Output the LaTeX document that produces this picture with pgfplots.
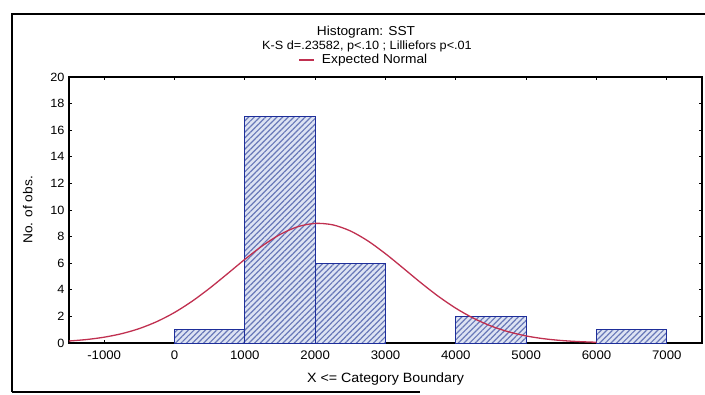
\documentclass[border=0pt]{standalone}
\usepackage{fontspec}
\setmainfont[FakeStretch=1.06]{Liberation Sans}
\usepackage{pgfplots}
\pgfplotsset{compat=1.18}
\usetikzlibrary{patterns.meta}
\definecolor{barbg}{HTML}{DDE3F3}
\definecolor{hatch}{HTML}{6878B8}
\definecolor{baredge}{HTML}{1E2E9A}
\definecolor{curve}{HTML}{C03050}
\begin{document}
\begin{tikzpicture}[x=1bp,y=1bp]
\useasboundingbox (0,0) rectangle (705,394);
\draw[line width=1.8bp] (12,2) -- (12,380) -- (705,380);
\draw[line width=1.8bp] (12,2) -- (420,2);
\node[font=\fontsize{13}{15}\selectfont] at (366,362) {Histogram: SST};
\node[font=\fontsize{12}{14}\selectfont] at (367,348) {K-S d=.23582, p<.10 ; Lilliefors p<.01};
\begin{axis}[
  at={(69bp,51bp)}, anchor=south west,
  scale only axis, width=633bp, height=266bp,
  xmin=-1500, xmax=7500, ymin=0, ymax=20,
  xtick={-1000,0,1000,2000,3000,4000,5000,6000,7000},
  ytick={0,2,4,6,8,10,12,14,16,18,20},
  tick align=inside, tick pos=both,
  major tick length=3bp,
  axis line style={line width=1.5bp},
  every tick/.style={black, line width=1bp},
  /pgf/number format/assume math mode=true,
  /pgf/number format/set thousands separator={},
  xticklabel style={font=\fontsize{12.5}{14}\selectfont, yshift=-4bp},
  yticklabel style={font=\fontsize{12}{14}\selectfont, xshift=-1bp},
  xlabel={X <= Category Boundary},
  ylabel={No. of obs.},
  xlabel style={font=\fontsize{13.5}{15}\selectfont, at={(axis description cs:0.5,-0.135)}, anchor=center},
  ylabel style={font=\fontsize{13}{15}\selectfont, at={(axis description cs:-0.065,0.5)}, anchor=center},
  legend style={at={(0.466,1.064)}, anchor=center, draw=none, fill=none,
    font=\fontsize{13}{15}\selectfont, inner sep=0pt,
    /tikz/every odd column/.append style={column sep=5bp}},
  legend image code/.code={\draw[#1, line width=1.3bp] (0bp,0bp) -- (15bp,0bp);},
  legend cell align=left,
  clip=false,
]
\addplot[ybar interval, draw=baredge, line width=1bp,
  preaction={fill=barbg},
  pattern={Lines[angle=45,distance=4bp,line width=1.2bp]}, pattern color=hatch,
  forget plot]
  coordinates {(0,1) (1000,17) (2000,6) (3000,6)};
\addplot[ybar interval, draw=baredge, line width=1bp,
  preaction={fill=barbg},
  pattern={Lines[angle=45,distance=4bp,line width=1.2bp]}, pattern color=hatch,
  forget plot]
  coordinates {(4000,2) (5000,2)};
\addplot[ybar interval, draw=baredge, line width=1bp,
  preaction={fill=barbg},
  pattern={Lines[angle=45,distance=4bp,line width=1.2bp]}, pattern color=hatch,
  forget plot]
  coordinates {(6000,1) (7000,1)};
\addplot[curve, line width=1.3bp, smooth, mark=none] coordinates {
(-1500,0.150) (-1250,0.261) (-1000,0.437) (-750,0.703) (-500,1.086) (-250,1.612)
(0,2.294) (250,3.138) (500,4.120) (750,5.194) (1000,6.289) (1250,7.310)
(1500,8.157) (1750,8.740) (2000,8.993) (2250,8.884) (2500,8.427) (2750,7.674)
(3000,6.711) (3250,5.636) (3500,4.542) (3750,3.515) (4000,2.613) (4250,1.865)
(4500,1.278) (4750,0.841) (5000,0.531) (5250,0.322) (5500,0.188) (5750,0.105)
(6000,0.056)};
\addlegendentry{Expected Normal}
\end{axis}
\end{tikzpicture}
\end{document}
